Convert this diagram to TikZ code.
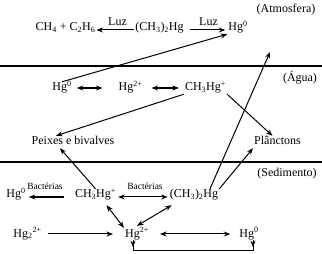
\documentclass[tikz,border=0pt]{standalone}
\usepackage{fontspec}
\setmainfont{Liberation Serif}
\usetikzlibrary{arrows.meta,calc}
\begin{document}
\begin{tikzpicture}[x=1pt,y=-1pt,
  lbl/.style={font=\fontsize{12}{14}\selectfont, inner sep=1pt, text height=8pt, text depth=2pt},
  small/.style={font=\fontsize{9.5}{11}\selectfont, inner sep=0pt},
  conn/.style={line width=1pt},
  arr/.style={conn, -{Stealth[length=6.5pt,width=5pt]}},
  darr/.style={conn, {Stealth[length=6.5pt,width=5pt]}-{Stealth[length=6.5pt,width=5pt]}},
  bold/.style={line width=1.4pt},
  sep/.style={line width=2pt}
]
\useasboundingbox (0,0) rectangle (322,254);
% separators
\draw[sep] (0,66) -- (322,66);
\draw[sep, line width=1.4pt] (0,162) -- (322,162);
% zone labels
\node[lbl] (atm) at (286,10) {(Atmosfera)};
\node[lbl] (agua) at (300,79) {(Água)};
\node[lbl] (sed) at (287,174) {(Sedimento)};
% atmosphere
\node[lbl] (ch4) at (65.5,28) {CH\textsubscript{4} + C\textsubscript{2}H\textsubscript{6}};
\node[lbl] (dmA) at (159.5,28) {(CH\textsubscript{3})\textsubscript{2}Hg};
\node[lbl] (hgA) at (238,28) {Hg\textsuperscript{0}};
\node[lbl] (luz1) at (117.5,23) {Luz};
\node[lbl] (luz2) at (208.5,23) {Luz};
% water
\node[lbl] (hgW) at (62,88) {Hg\textsuperscript{0}};
\node[lbl] (hg2W) at (130.5,88) {Hg\textsuperscript{2+}};
\node[lbl] (meW) at (205.5,88) {CH\textsubscript{3}Hg\textsuperscript{+}};
\node[lbl] (pei) at (73,142) {Peixes e bivalves};
\node[lbl] (pla) at (277.5,142) {Plânctons};
% sediment
\node[lbl] (hgS) at (16,195) {Hg\textsuperscript{0}};
\node[lbl] (meS) at (95.5,195) {CH\textsubscript{3}Hg\textsuperscript{+}};
\node[lbl] (dmS) at (194,195) {(CH\textsubscript{3})\textsubscript{2}Hg};
\node[small] (b1) at (45,186) {Bactérias};
\node[small] (b2) at (145,186) {Bactérias};
\node[lbl] (hg22) at (27.5,234) {Hg\textsubscript{2}\textsuperscript{2+}};
\node[lbl] (hg2S) at (137,234) {Hg\textsuperscript{2+}};
\node[lbl] (hgB) at (249,234) {Hg\textsuperscript{0}};
\coordinate (up) at (270,52);
\coordinate (bl) at (133,251);
\coordinate (br) at (253,251);
% atmosphere arrows
\draw[arr] ([yshift=-2pt]dmA.west) -- ([yshift=-2pt]ch4.east);
\draw[arr, shorten <=5pt, shorten >=2pt] ([yshift=-2pt]dmA.east) -- ([yshift=-2pt]hgA.west);
\draw[arr] (hgW.north) -- (hgA.south west);
% water arrows
\draw[darr, bold] ([xshift=4pt]hgW.east) -- ([xshift=-15pt]hg2W.west);
\draw[darr, bold] ([xshift=8pt]hg2W.east) -- ([xshift=-5pt]meW.west);
\draw[arr] (meW.south west) -- ([xshift=-17pt]pei.north);
\draw[arr] (meW.south east) -- ([xshift=-5pt]pla.north);
% sediment arrows
\draw[arr] ([xshift=16pt]dmS.north) -- (up);
\draw[arr] (dmS.north east) -- (pla.south west);
\draw[arr] (meS.north) -- ([xshift=-13pt]pei.south);
\draw[arr, bold] ([shift={(-10pt,-2pt)}]meS.west) -- ([shift={(2pt,-2pt)}]hgS.east);
\draw[darr] ([shift={(1pt,-2pt)}]meS.east) -- ([shift={(-1pt,-2pt)}]dmS.west);
\draw[darr] ([shift={(11pt,-4pt)}]meS.south) -- (hg2S.north west);
\draw[darr] ([shift={(3pt,-4pt)}]dmS.south west) -- ([yshift=2pt]hg2S.north);
\draw[arr, shorten <=5pt, shorten >=11pt] (hg22.east) -- (hg2S.west);
\draw[darr, shorten <=10pt, shorten >=8pt] (hg2S.east) -- (hgB.west);
% bottom loop
\draw[conn] ([xshift=-4pt]hg2S.south) -- (bl) -- (br) -- ([xshift=4pt]hgB.south);
\draw[arr] ([xshift=-4pt]hg2S.south) -- ++(0,7);
\draw[arr] ([xshift=4pt]hgB.south) -- ++(0,7);
\end{tikzpicture}
\end{document}
